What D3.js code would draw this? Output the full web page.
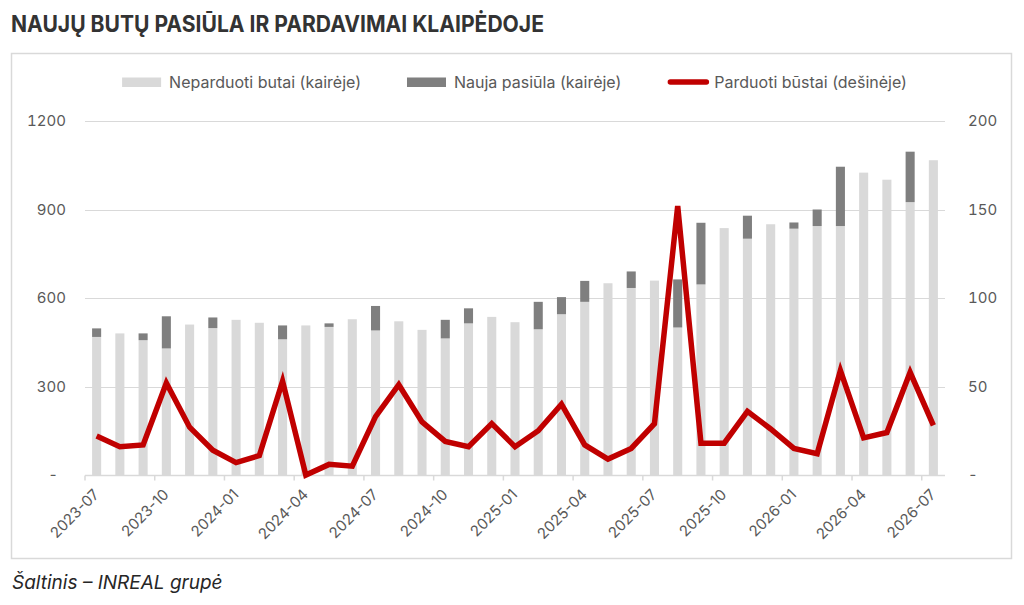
<!DOCTYPE html>
<html>
<head>
<meta charset="utf-8">
<script src="https://cdn.jsdelivr.net/npm/d3@7"></script>
<style>
  body { margin: 0; background: #fff; }
  svg { display: block; font-family: Inter, "Noto Sans", sans-serif; }
</style>
</head>
<body>
<svg id="chart"></svg>
<script>
//------ Données ------
var months = [
  "2023-07","2023-08","2023-09","2023-10","2023-11","2023-12",
  "2024-01","2024-02","2024-03","2024-04","2024-05","2024-06",
  "2024-07","2024-08","2024-09","2024-10","2024-11","2024-12",
  "2025-01","2025-02","2025-03","2025-04","2025-05","2025-06",
  "2025-07","2025-08","2025-09","2025-10","2025-11","2025-12",
  "2026-01","2026-02","2026-03","2026-04","2026-05","2026-06",
  "2026-07"
];
// neparduoti butai (kairė ašis)
var unsold = [468,480,457,429,510,498,526,516,460,507,502,528,490,521,492,463,514,536,518,494,545,587,650,634,659,500,646,837,801,850,835,844,844,1025,1001,925,1067];
// nauja pasiūla (kairė ašis)
var newSupply = [29,0,23,109,0,36,0,0,47,0,12,0,83,0,0,63,51,0,0,93,58,71,0,56,0,163,209,0,78,0,21,56,201,0,0,171,0];
// parduoti būstai (dešinė ašis)
var sold = [22,16,17,52,27,14,7,11,53,0,6,5,33,51,30,19,16,29,16,25,40,17,9,15,29,152,18,18,36,26,15,12,59,21,24,58,28];

var leftTicks = [0,300,600,900,1200];
var rightTicks = [0,50,100,150,200];
var tickMonths = months.filter((m, i) => i % 3 === 0);
var legendNames = ["Neparduoti butai (kairėje)", "Nauja pasiūla (kairėje)", "Parduoti būstai (dešinėje)"];

var title = "NAUJŲ BUTŲ PASIŪLA IR PARDAVIMAI KLAIPĖDOJE";
var source = "Šaltinis – INREAL grupė";

//------ Rendre ------
var width = 1024, height = 605;
var colLight = "#d9d9d9", colDark = "#7f7f7f", colRed = "#c00000", colText = "#595959";

var svg = d3.select("#chart")
    .attr("width", width)
    .attr("height", height);

var plot = {left: 85, right: 945, top: 121, bottom: 475};

var x = d3.scaleBand()
    .domain(months)
    .range([plot.left, plot.right])
    .paddingInner(0.61)
    .paddingOuter(0.305);

var yL = d3.scaleLinear().domain([0, 1200]).range([plot.bottom, plot.top]);
var yR = d3.scaleLinear().domain([0, 200]).range([plot.bottom, plot.top]);

// titre
svg.append("text")
    .attr("x", 11).attr("y", 32)
    .attr("font-size", 23).attr("font-weight", 700)
    .attr("fill", "#333")
    .attr("textLength", 533).attr("lengthAdjust", "spacingAndGlyphs")
    .text(title);

// cadre
svg.append("rect")
    .attr("x", 11.5).attr("y", 53.5)
    .attr("width", 1000).attr("height", 505)
    .attr("fill", "none").attr("stroke", "#d9d9d9").attr("stroke-width", 1.5);

// grille
svg.append("g")
    .selectAll("line")
    .data(leftTicks.slice(1))
    .enter().append("line")
    .attr("x1", plot.left).attr("x2", plot.right)
    .attr("y1", d => Math.round(yL(d)) + 0.5).attr("y2", d => Math.round(yL(d)) + 0.5)
    .attr("stroke", "#d9d9d9").attr("stroke-width", 1);

// axe gauche
var axL = svg.append("g")
    .attr("transform", "translate(" + (plot.left - 19) + ",0)")
    .call(d3.axisLeft(yL).tickValues(leftTicks).tickSize(0).tickPadding(0)
        .tickFormat(d => d === 0 ? "-\u00a0\u00a0" : d));
axL.select(".domain").remove();
axL.selectAll("text").attr("font-size", 15).attr("fill", colText)
    .attr("font-family", "Inter").style("font-variant-numeric", "tabular-nums");

// axe droit
var axR = svg.append("g")
    .attr("transform", "translate(" + (plot.right + 23) + ",0)")
    .call(d3.axisRight(yR).tickValues(rightTicks).tickSize(0).tickPadding(0)
        .tickFormat(d => d === 0 ? "-" : d));
axR.select(".domain").remove();
axR.selectAll("text").attr("font-size", 15).attr("fill", colText)
    .attr("font-family", "Inter").style("font-variant-numeric", "tabular-nums");

// barres empilées
var bars = svg.append("g");
bars.selectAll("rect.unsold")
    .data(months)
    .enter().append("rect")
    .attr("class", "unsold")
    .attr("x", d => x(d))
    .attr("width", x.bandwidth())
    .attr("y", (d, i) => yL(unsold[i]))
    .attr("height", (d, i) => yL(0) - yL(unsold[i]))
    .attr("fill", colLight);

bars.selectAll("rect.new")
    .data(months)
    .enter().append("rect")
    .attr("class", "new")
    .attr("x", d => x(d))
    .attr("width", x.bandwidth())
    .attr("y", (d, i) => yL(unsold[i] + newSupply[i]))
    .attr("height", (d, i) => yL(unsold[i]) - yL(unsold[i] + newSupply[i]))
    .attr("fill", colDark);

// axe x
var step = x.step();
var axX = svg.append("g").attr("transform", "translate(0," + (plot.bottom + 0.5) + ")");
axX.append("line")
    .attr("x1", plot.left).attr("x2", plot.right)
    .attr("stroke", "#d9d9d9").attr("stroke-width", 1.5);
var ticks = axX.selectAll("g.tick")
    .data(tickMonths)
    .enter().append("g")
    .attr("class", "tick")
    .attr("transform", d => "translate(" + (x(d) - x.paddingInner() * step / 2) + ",0)");
ticks.append("line")
    .attr("y1", 0).attr("y2", 5)
    .attr("stroke", "#d9d9d9").attr("stroke-width", 1.5);
ticks.append("text")
    .attr("text-anchor", "end")
    .attr("transform", "translate(15,20) rotate(-45)")
    .attr("font-size", 15).attr("fill", colText)
    .text(d => d);

// ligne des ventes
var line = d3.line()
    .x((d, i) => x(months[i]) + x.bandwidth() / 2)
    .y(d => yR(d));

svg.append("path")
    .datum(sold)
    .attr("d", line)
    .attr("fill", "none")
    .attr("stroke", colRed)
    .attr("stroke-width", 5.5)
    .attr("stroke-linejoin", "miter")
    .attr("stroke-linecap", "butt");

// légende
var legend = svg.append("g");
var legendY = 82, sw = 39, gap = 8, itemGap = 46;
var items = legend.selectAll("g.item")
    .data(legendNames)
    .enter().append("g")
    .attr("class", "item");
items.each(function (d, i) {
    var g = d3.select(this);
    if (i < 2) {
        g.append("rect")
            .attr("x", 0).attr("y", legendY - 4.5)
            .attr("width", sw).attr("height", 9.5)
            .attr("fill", i === 0 ? colLight : colDark);
    } else {
        g.append("line")
            .attr("x1", 3).attr("x2", sw)
            .attr("y1", legendY).attr("y2", legendY)
            .attr("stroke", colRed).attr("stroke-width", 5.5)
            .attr("stroke-linecap", "round");
    }
    g.append("text")
        .attr("x", sw + gap)
        .attr("y", legendY + 5.5)
        .attr("font-size", 16).attr("fill", colText)
        .text(d);
});
var widths = [];
items.each(function () { widths.push(this.getBBox().width); });
var total = d3.sum(widths) + itemGap * (widths.length - 1);
var cx = 513 - total / 2;
items.attr("transform", function (d, i) {
    var off = cx + d3.sum(widths.slice(0, i)) + itemGap * i;
    return "translate(" + off + ",0)";
});

// source
svg.append("text")
    .attr("x", 12).attr("y", 589)
    .attr("font-size", 19).attr("font-style", "italic")
    .attr("fill", "#262626")
    .text(source);
</script>
</body>
</html>
